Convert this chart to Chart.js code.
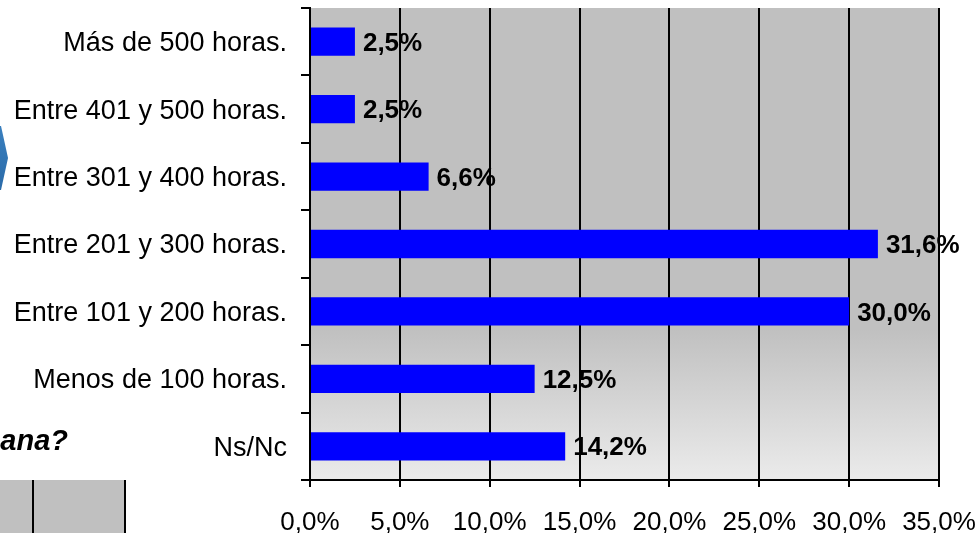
<!DOCTYPE html>
<html>
<head>
<meta charset="utf-8">
<script src="https://cdn.jsdelivr.net/npm/chart.js@4.4.1/dist/chart.umd.min.js"></script>
<style>
html,body{margin:0;padding:0;background:#fff;}
#wrap{width:978px;height:533px;position:relative;}
</style>
</head>
<body>
<div id="wrap"><canvas id="c" width="978" height="533"></canvas></div>
<script>
const categories = ["Más de 500 horas.", "Entre 401 y 500 horas.", "Entre 301 y 400 horas.", "Entre 201 y 300 horas.", "Entre 101 y 200 horas.", "Menos de 100 horas.", "Ns/Nc"];
const values = [2.5, 2.5, 6.6, 31.6, 30.0, 12.5, 14.2];
const xTicks = [0, 5, 10, 15, 20, 25, 30, 35];

const FONT = '"Liberation Sans", Arial, sans-serif';
const fmt = v => v.toFixed(1).replace('.', ',') + '%';

const bgPlugin = {
  id: 'bg',
  beforeDraw(chart) {
    const ctx = chart.ctx;
    const a = chart.chartArea;
    ctx.save();
    ctx.fillStyle = '#fff';
    ctx.fillRect(0, 0, chart.width, chart.height);
    // fragments of neighbouring graphics
    const g0 = ctx.createLinearGradient(0, 125, 0, 192);
    g0.addColorStop(0, '#3a80bf');
    g0.addColorStop(1, '#2a6aa8');
    ctx.fillStyle = g0;
    ctx.beginPath();
    ctx.moveTo(0, 126); ctx.lineTo(1, 126); ctx.lineTo(8, 158); ctx.lineTo(1, 190); ctx.lineTo(0, 190);
    ctx.closePath(); ctx.fill();
    ctx.fillStyle = '#000';
    ctx.font = 'italic bold 29px ' + FONT;
    ctx.textAlign = 'right'; ctx.textBaseline = 'alphabetic';
    ctx.fillText('semana?', 68, 450);
    ctx.fillStyle = '#c0c0c0';
    ctx.fillRect(0, 480, 126, 53);
    ctx.fillStyle = '#000';
    ctx.fillRect(32, 480, 2, 53);
    ctx.fillRect(124, 480, 2, 53);
    // plot background
    const g = ctx.createLinearGradient(0, a.top, 0, a.bottom);
    g.addColorStop(0, '#c0c0c0');
    g.addColorStop(0.68, '#c0c0c0');
    g.addColorStop(1, '#ebebeb');
    ctx.fillStyle = g;
    ctx.fillRect(a.left, a.top, a.right - a.left, a.bottom - a.top);
    ctx.restore();
  }
};

const labelPlugin = {
  id: 'vlabels',
  afterDatasetsDraw(chart) {
    const ctx = chart.ctx;
    const meta = chart.getDatasetMeta(0);
    ctx.save();
    ctx.font = 'bold 26px ' + FONT;
    ctx.fillStyle = '#000';
    ctx.textAlign = 'left';
    ctx.textBaseline = 'middle';
    meta.data.forEach((bar, i) => {
      ctx.fillText(fmt(values[i]), bar.x + 8, bar.y + 2);
    });
    ctx.restore();
  }
};

new Chart(document.getElementById('c'), {
  type: 'bar',
  data: {
    labels: categories,
    datasets: [{
      data: values,
      backgroundColor: '#0000ff',
      borderWidth: 0,
      barPercentage: 0.42,
      categoryPercentage: 1
    }]
  },
  options: {
    indexAxis: 'y',
    responsive: false,
    animation: false,
    devicePixelRatio: 1,
    layout: { padding: { top: 8, right: 39, left: 0, bottom: 0 } },
    plugins: { legend: { display: false }, tooltip: { enabled: false } },
    scales: {
      x: {
        min: 0, max: 35,
        afterBuildTicks(s) { s.ticks = xTicks.map(v => ({ value: v })); },
        afterFit(s) { s.height = 53; s.paddingLeft = 0; s.paddingRight = 0; },
        ticks: {
          color: '#000',
          font: { family: FONT, size: 26 },
          padding: 20,
          maxRotation: 0,
          autoSkip: false,
          callback: v => fmt(v)
        },
        grid: { color: '#000', lineWidth: 2, tickLength: 7, drawTicks: true },
        border: { display: true, color: '#000', width: 2 }
      },
      y: {
        afterFit(s) { s.width = 310; s.paddingTop = 0; s.paddingBottom = 0; },
        ticks: {
          color: '#000',
          font: { family: FONT, size: 27 },
          padding: 14,
          labelOffset: 2,
          autoSkip: false
        },
        grid: { drawOnChartArea: false, color: '#000', lineWidth: 2, tickLength: 9, offset: true },
        border: { display: true, color: '#000', width: 2 }
      }
    }
  },
  plugins: [bgPlugin, labelPlugin]
});
</script>
</body>
</html>
